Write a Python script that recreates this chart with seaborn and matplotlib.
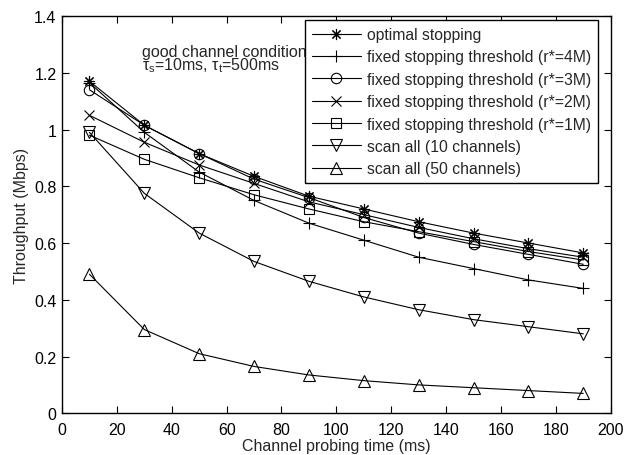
import matplotlib
matplotlib.use("Agg")
import matplotlib.pyplot as plt
import seaborn as sns
import pandas as pd

# Channel probing time (ms)
probe_time = [10, 30, 50, 70, 90, 110, 130, 150, 170, 190]

# Throughput (Mbps) for each scheme
optimal = [1.17, 1.015, 0.915, 0.835, 0.765, 0.72, 0.675, 0.635, 0.60, 0.565]
fixed_4m = [1.165, 0.99, 0.85, 0.75, 0.67, 0.61, 0.55, 0.51, 0.47, 0.44]
fixed_3m = [1.14, 1.015, 0.915, 0.825, 0.76, 0.69, 0.635, 0.595, 0.56, 0.525]
fixed_2m = [1.05, 0.955, 0.875, 0.81, 0.745, 0.70, 0.655, 0.615, 0.58, 0.55]
fixed_1m = [0.98, 0.895, 0.83, 0.77, 0.72, 0.675, 0.64, 0.605, 0.57, 0.54]
scan_10 = [0.99, 0.775, 0.635, 0.535, 0.465, 0.41, 0.365, 0.33, 0.305, 0.28]
scan_50 = [0.49, 0.295, 0.21, 0.165, 0.135, 0.115, 0.10, 0.09, 0.08, 0.07]

labels = [
    "optimal stopping",
    "fixed stopping threshold (r*=4M)",
    "fixed stopping threshold (r*=3M)",
    "fixed stopping threshold (r*=2M)",
    "fixed stopping threshold (r*=1M)",
    "scan all (10 channels)",
    "scan all (50 channels)",
]
series = [optimal, fixed_4m, fixed_3m, fixed_2m, fixed_1m, scan_10, scan_50]
markers = [(8, 2, 0), "+", "o", "x", "s", "v", "^"]
marker_sizes = [8, 8, 7.5, 7, 7, 8.5, 8.5]

sns.set_theme(style="ticks")
plt.rcParams["font.family"] = ["Liberation Sans", "DejaVu Sans"]
plt.rcParams["mathtext.fontset"] = "custom"
plt.rcParams["mathtext.rm"] = "Liberation Sans"
plt.rcParams["mathtext.it"] = "Liberation Sans"

fig = plt.figure(figsize=(6.24, 4.56), dpi=100)
ax = fig.add_axes([0.0994, 0.0915, 0.8793, 0.8712])

for lab, vals, mk, ms in zip(labels, series, markers, marker_sizes):
    df = pd.DataFrame({"t": probe_time, "y": vals})
    sns.lineplot(data=df, x="t", y="y", ax=ax, color="black", linewidth=0.8,
                 marker=mk, markersize=ms, markerfacecolor="none",
                 markeredgecolor="black", markeredgewidth=0.8, label=lab)

ax.set_xlim(0, 200)
ax.set_ylim(0, 1.4)
ax.set_xticks(range(0, 201, 20))
ax.set_yticks([0, 0.2, 0.4, 0.6, 0.8, 1.0, 1.2, 1.4])
ax.set_yticklabels(["0", "0.2", "0.4", "0.6", "0.8", "1", "1.2", "1.4"])
ax.tick_params(direction="in", top=True, right=True, length=5, width=0.8,
               labelsize=11.5, colors="black")
ax.tick_params(axis="x", pad=6)
ax.tick_params(axis="y", pad=4)
for sp in ax.spines.values():
    sp.set_linewidth(1.0)
    sp.set_color("black")

ax.set_xlabel("Channel probing time (ms)", fontsize=11.5, labelpad=1)
ax.set_ylabel("Throughput (Mbps)", fontsize=11.5, labelpad=4)

# Scenario note, two tightly stacked lines
ax.text(29, 1.30, "good channel condition\n"
        r"$\tau_s$=10ms, $\tau_t$=500ms",
        fontsize=11.5, ha="left", va="top", linespacing=0.7, zorder=3)

leg = ax.legend(loc="upper right", bbox_to_anchor=(0.977, 0.99), borderaxespad=0,
                fancybox=False, framealpha=1, edgecolor="black", fontsize=11.3,
                handlelength=3.1, handletextpad=0.4, labelspacing=0.47,
                borderpad=0.45)
leg.get_frame().set_linewidth(1.0)
leg.set_zorder(5)

fig.savefig("out.png", dpi=100)
